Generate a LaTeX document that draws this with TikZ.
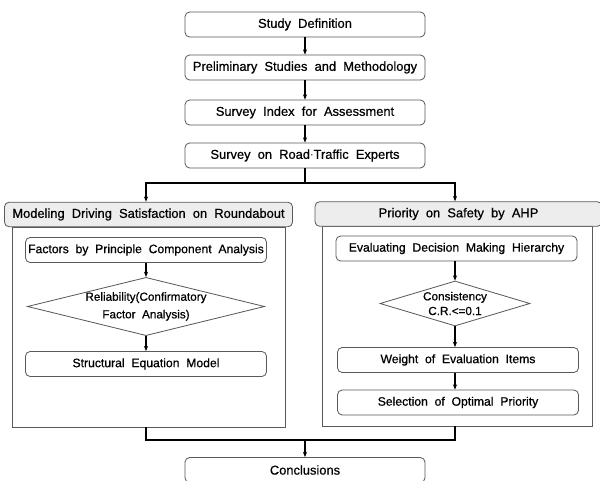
\documentclass[tikz,border=0pt]{standalone}
\usepackage{fontspec}
\setmainfont[WordSpace=2, FakeBold=0.6]{Liberation Sans}
\usetikzlibrary{arrows.meta,shapes.geometric}

\begin{document}
\begin{tikzpicture}[x=0.03cm, y=-0.03cm,
		box/.style={rectangle, rounded corners=4pt, draw=black!65, line width=0.7pt, fill=white, minimum width=7.2cm, minimum height=0.75cm, inner sep=0pt, font=\fontsize{11}{13}\selectfont},
		inbox/.style={box, minimum width=7.23cm, font=\fontsize{10.4}{13}\selectfont},
		title/.style={box, fill=black!7, minimum height=0.74cm},
		panel/.style={rectangle, draw=black!65, line width=0.7pt, minimum height=6cm, inner sep=0pt},
		choice/.style={diamond, draw=black!65, line width=0.7pt, inner sep=0pt, align=center},
		link/.style={line width=0.9pt, -{Stealth[length=4.5pt, width=3.5pt]}}]
	\useasboundingbox (0,0) rectangle (600,480);
	\node[box](def) at (305,24.5){Study Definition};
	\node[box](pre) at (305,67.5){Preliminary Studies and Methodology};
	\node[box](idx) at (305,112.5){Survey Index for Assessment};
	\node[box](srv) at (305,155.5){Survey on Road$\cdot$Traffic Experts};
	\draw[link] (def) -- (pre);
	\draw[link] (pre) -- (idx);
	\draw[link] (idx) -- (srv);

	\node[panel, minimum width=8.19cm](lpanel) at (148.5,327){};
	\node[title, minimum width=8.64cm](ltitle) at (148.5,214.5){Modeling Driving Satisfaction on Roundabout};
	\node[inbox](pca) at (146,250){Factors by Principle Component Analysis};
	\node[choice, minimum width=6.96cm, minimum height=1.71cm, aspect=4.07, font=\fontsize{10}{15}\selectfont](cfa) at (146,306.5){Reliability(Confirmatory\\Factor Analysis)};
	\node[inbox](sem) at (146,364){Structural Equation Model};
	\draw[link] (pca) -- (cfa);
	\draw[link] (cfa) -- (sem);

	\node[panel, minimum width=8.1cm](rpanel) at (457,326){};
	\node[title, minimum width=8.61cm](rtitle) at (458.5,214){Priority on Safety by AHP};
	\node[inbox](hier) at (456.5,248.5){Evaluating Decision Making Hierarchy};
	\node[choice, minimum width=4.5cm, minimum height=1.35cm, aspect=3.33, font=\fontsize{10}{12.5}\selectfont](cr) at (455,303.5){Consistency\\C.R.<=0.1};
	\node[inbox](wgt) at (458,360){Weight of Evaluation Items};
	\node[inbox](sel) at (458,402.5){Selection of Optimal Priority};
	\draw[link] (hier.south -| cr.north) -- (cr);
	\draw[link] (cr) -- (wgt.north -| cr.south);
	\draw[link] (wgt.south -| cr.south) -- (sel.north -| cr.south);

	\coordinate (split) at (305,183);
	\coordinate (merge) at (305,440);
	\node[box](con) at (305,470){Conclusions};
	\draw[line width=0.9pt] (srv) -- (split);
	\draw[link] (split) -| (ltitle.north -| pca.north);
	\draw[link] (split) -| (rtitle.north -| cr.north);
	\draw[line width=0.9pt] (lpanel.south -| pca.south) |- (merge);
	\draw[line width=0.9pt] (rpanel.south -| cr.south) |- (merge);
	\draw[link] (merge) -- (con);
\end{tikzpicture}
\end{document}
